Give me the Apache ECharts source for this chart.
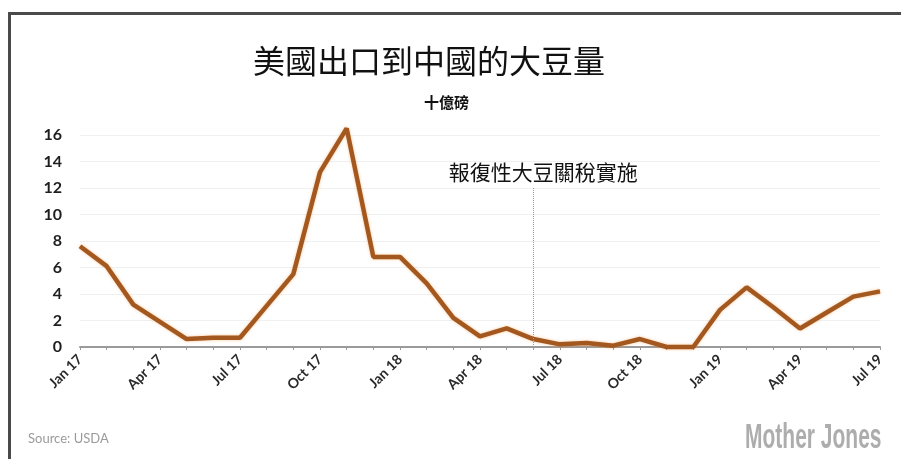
<!DOCTYPE html>
<html>
<head>
<meta charset="utf-8">
<script src="https://cdn.jsdelivr.net/npm/echarts@6/dist/echarts.min.js"></script>
<style>
  html, body { margin: 0; padding: 0; background: #fff; }
  #chart { width: 901px; height: 459px; }
</style>
</head>
<body>
<div id="chart"></div>
<script>
// Monthly US soybean exports to China, billions of pounds
const months = [
  'Jan 17','Feb 17','Mar 17','Apr 17','May 17','Jun 17','Jul 17','Aug 17','Sep 17','Oct 17','Nov 17','Dec 17',
  'Jan 18','Feb 18','Mar 18','Apr 18','May 18','Jun 18','Jul 18','Aug 18','Sep 18','Oct 18','Nov 18','Dec 18',
  'Jan 19','Feb 19','Mar 19','Apr 19','May 19','Jun 19','Jul 19'
];
const exportsToChina = [
  7.6, 6.1, 3.2, 1.9, 0.6, 0.7, 0.7, 3.1, 5.5, 13.2, 16.5, 6.8,
  6.8, 4.8, 2.2, 0.8, 1.4, 0.6, 0.2, 0.3, 0.1, 0.6, 0.0, 0.0,
  2.8, 4.5, 3.0, 1.4, 2.6, 3.8, 4.2
];
const yTicks = [0, 2, 4, 6, 8, 10, 12, 14, 16];
const tariffMonth = 'Jun 18';
const tariffLabel = '報復性大豆關稅實施';
const titleText = '美國出口到中國的大豆量';
const unitText = '十億磅';
const sourceText = 'Source: USDA';
const brandText = 'Mother Jones';

const chart = echarts.init(document.getElementById('chart'), null, { renderer: 'canvas' });

const cjk = '"Noto Sans CJK TC", "Noto Sans CJK SC", sans-serif';
const latin = 'Lato, "Open Sans", sans-serif';

chart.setOption({
  backgroundColor: '#ffffff',
  animation: false,
  title: [
    {
      text: titleText,
      left: 248, top: 40,
      textStyle: { fontFamily: cjk, fontSize: 32, fontWeight: 'normal', color: '#111' }
    },
    {
      text: unitText,
      left: 419, top: 90,
      textStyle: { fontFamily: cjk, fontSize: 15, fontWeight: 'bold', color: '#111' }
    }
  ],
  grid: { left: 80, right: 21, top: 135, bottom: 112, containLabel: false },
  xAxis: {
    type: 'category',
    data: months,
    boundaryGap: false,
    axisLine: { lineStyle: { color: '#9a9a9a', width: 2 } },
    axisTick: { show: true, interval: 0, length: 3, lineStyle: { color: '#9a9a9a' } },
    axisLabel: {
      interval: 2,
      rotate: 45,
      margin: 10,
      fontFamily: latin,
      fontWeight: 'bold',
      fontSize: 14,
      color: '#2a2a2a'
    },
    splitLine: { show: false }
  },
  yAxis: {
    type: 'value',
    min: yTicks[0],
    max: yTicks[yTicks.length - 1],
    interval: 2,
    axisLine: { show: false },
    axisTick: { show: false },
    axisLabel: {
      margin: 18,
      fontFamily: latin,
      fontWeight: 'bold',
      fontSize: 16,
      color: '#1e1e1e'
    },
    splitLine: { lineStyle: { color: '#f0f0f0', width: 1 } }
  },
  series: [{
    type: 'line',
    data: exportsToChina,
    clip: false,
    symbol: 'none',
    lineStyle: {
      color: '#a3581f',
      width: 4.5,
      shadowColor: 'rgba(245,150,60,0.55)',
      shadowBlur: 3
    },
    markLine: {
      silent: true,
      symbol: 'none',
      lineStyle: { color: '#9a9a9a', type: 'dotted', width: 1 },
      label: {
        show: true,
        position: 'end',
        distance: 5,
        offset: [10, 0],
        formatter: tariffLabel,
        fontFamily: cjk,
        fontSize: 21,
        color: '#111'
      },
      data: [[
        { coord: [tariffMonth, 0] },
        { coord: [tariffMonth, 12] }
      ]]
    }
  }],
  graphic: [
    // frame: top and left edges
    { type: 'rect', shape: { x: 8, y: 12, width: 893, height: 3 }, style: { fill: '#4a4a4a' } },
    { type: 'rect', shape: { x: 8, y: 12, width: 3, height: 447 }, style: { fill: '#4a4a4a' } },
    {
      type: 'text', left: 28, top: 432,
      style: { text: sourceText, fontFamily: latin, fontSize: 13, fill: '#9a9a9a' }
    },
    {
      type: 'text', x: 745, y: 421,
      scaleX: 0.6,
      style: {
        text: brandText,
        fontFamily: '"Liberation Sans", Arial, sans-serif',
        fontWeight: 'bold', fontSize: 35, fill: '#adadad'
      }
    }
  ]
});
</script>
</body>
</html>
